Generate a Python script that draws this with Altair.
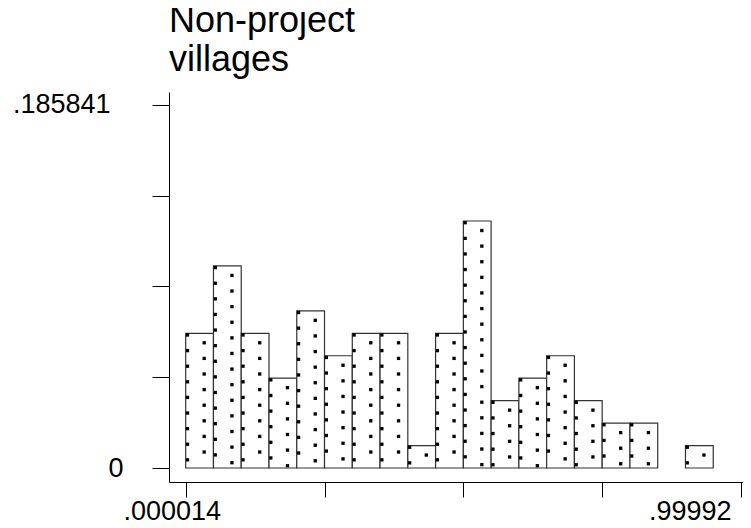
import altair as alt
import pandas as pd

# ---- data ----
x_min = 0.000014
x_max = 0.99992
n_bins = 20
# bar heights (fraction of villages per bin), left to right; 0 = empty bin
heights = [0.068966, 0.103448, 0.068966, 0.045977, 0.080460,
           0.057471, 0.068966, 0.068966, 0.011494, 0.068966,
           0.126437, 0.034483, 0.045977, 0.057471, 0.034483,
           0.022989, 0.022989, 0.0, 0.011494, 0.0]
y_top = 0.185841
title_lines = ["Non-project", "villages"]
x_tick_labels = [".000014", "", "", "", ".99992"]
y_tick_labels = ["0", "", "", "", ".185841"]

bw = (x_max - x_min) / n_bins
df = pd.DataFrame({
    "start": [x_min + i * bw for i in range(n_bins)],
    "end": [x_min + (i + 1) * bw for i in range(n_bins)],
    "frac": heights,
})

x_ticks = [x_min + k * (x_max - x_min) / 4 for k in range(5)]
y_ticks = [y_top * k / 4 for k in range(5)]

FONT = "Liberation Sans"

x_expr = " : ".join(
    f"abs(datum.value - {v}) < 1e-6 ? '{t}'" for v, t in zip(x_ticks, x_tick_labels)
) + " : ''"
y_expr = " : ".join(
    f"abs(datum.value - {v}) < 1e-6 ? '{t}'" for v, t in zip(y_ticks, y_tick_labels)
) + " : ''"

xscale = alt.Scale(domain=[-0.030057, 1.003522], nice=False, zero=False)
yscale = alt.Scale(domain=[-0.007167, 0.19249], nice=False, zero=False)

xaxis = alt.Axis(
    values=x_ticks, labelExpr=x_expr, title=None, grid=False,
    tickSize=15, tickColor="black", domainColor="black", tickWidth=1, domainWidth=1,
    labelFont=FONT, labelFontSize=27, labelColor="black", labelPadding=1,
    labelAlign={"condition": {"test": "datum.value > 0.5", "value": "right"}, "value": "center"},
    labelOffset={"condition": {"test": "datum.value > 0.5", "value": -10}, "value": -14},
    labelOverlap=False, labelFlush=False,
)
yaxis = alt.Axis(
    values=y_ticks, labelExpr=y_expr, title=None, grid=False,
    tickSize=17, tickColor="black", domainColor="black", tickWidth=1, domainWidth=1,
    labelFont=FONT, labelFontSize=27, labelColor="black",
    labelPadding={"condition": {"test": "datum.value < 0.01", "value": 29}, "value": 42},
    labelOverlap=False, labelFlush=False,
)

base = alt.Chart(df).transform_filter("datum.frac > 0")

bars = base.mark_rect(fill="white", stroke="#333333", strokeWidth=1.2).encode(
    x=alt.X("start:Q", scale=xscale, axis=xaxis),
    x2="end:Q",
    y=alt.Y("frac:Q", scale=yscale, axis=yaxis),
    y2=alt.datum(0),
)

# dotted fill pattern, derived from each bar's extent
dots = base.transform_calculate(
    k="sequence(0, 18)"
).transform_flatten(["k"]).transform_calculate(
    col="[0, 1]"
).transform_flatten(["col"]).transform_calculate(
    dx="datum.col == 0 ? 0.00324 : 0.0333",
    dy="datum.col == 0 ? 0.00087 : 0.00486",
).transform_calculate(
    px="datum.start + datum.dx",
    py="datum.frac - datum.dy - datum.k * 0.00799",
).transform_filter("datum.py >= 0.00072").mark_square(
    size=11, color="black", opacity=1, filled=True
).encode(
    x=alt.X("px:Q", scale=xscale, axis=xaxis),
    y=alt.Y("py:Q", scale=yscale, axis=yaxis),
)

chart = alt.layer(bars, dots).properties(
    width=574, height=390,
    autosize=alt.AutoSizeParams(type="none"),
    padding={"left": 161, "top": 84, "right": 0, "bottom": 38},
    title=alt.Title(
        title_lines, anchor="start", orient="top", frame="group",
        font=FONT, fontSize=36, fontWeight="normal", color="black",
        lineHeight=39, baseline="alphabetic", offset=-16,
    ),
).configure_view(stroke=None)

chart.save("out.html", embed_options={"renderer": "svg", "actions": False})
